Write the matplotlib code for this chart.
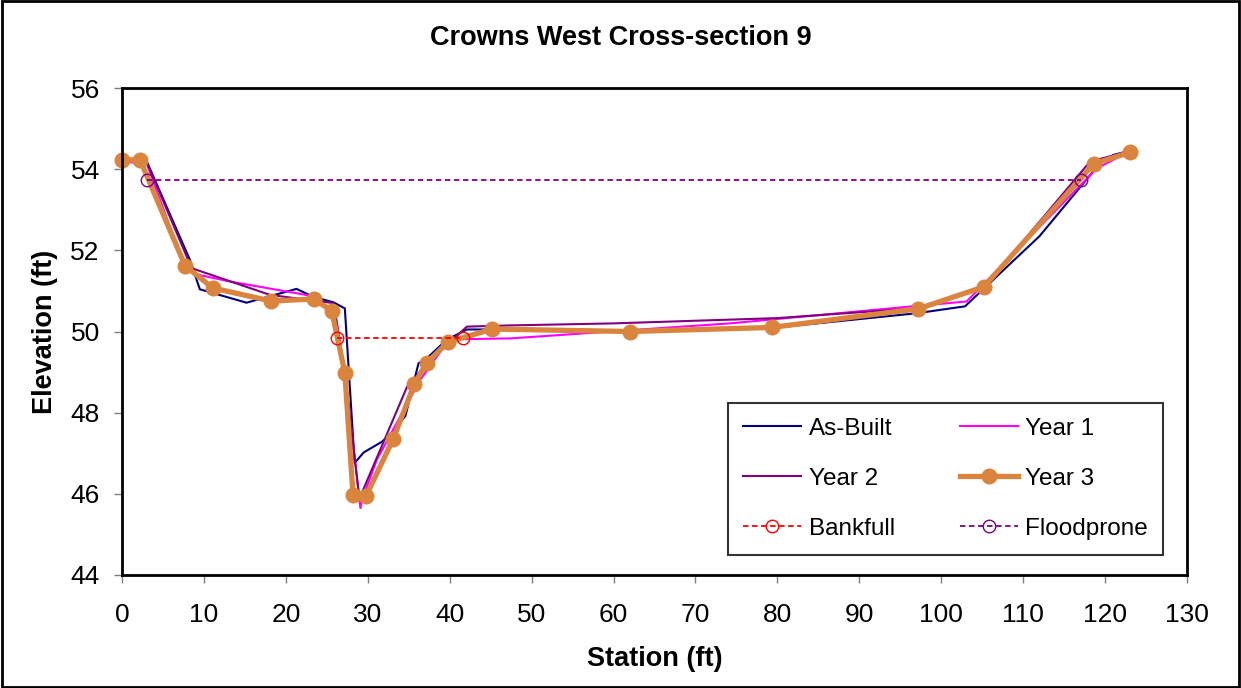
import matplotlib
matplotlib.use("Agg")
import matplotlib.pyplot as plt
from matplotlib.patches import Rectangle

plt.rcParams['font.family'] = ['Liberation Sans', 'DejaVu Sans']

title = "Crowns West Cross-section 9"
x_label = "Station (ft)"
y_label = "Elevation (ft)"

asbuilt_x = [0, 3.0, 8.3, 9.5, 15.2, 21.3, 23.4, 25.8, 27.2, 28.4, 29.5, 31.7, 32.7, 34.6, 35.0, 36.2, 37.0, 39.6, 42.1, 45.0, 62.0, 80.0, 97.0, 102.9, 112.0, 119.4, 121.0, 123.1]
asbuilt_y = [54.25, 54.2, 51.76, 51.04, 50.71, 51.05, 50.85, 50.72, 50.57, 46.76, 47.02, 47.28, 47.45, 47.92, 48.25, 49.22, 49.3, 49.79, 50.05, 50.05, 50.0, 50.1, 50.45, 50.62, 52.35, 54.15, 54.35, 54.46]

year1_x = [0, 3.0, 7.7, 9.5, 13.2, 22.5, 23.3, 26.0, 27.2, 29.1, 29.3, 31.1, 36.4, 39.6, 41.3, 47.4, 74.2, 97.0, 103.1, 119.0, 123.1]
year1_y = [54.18, 54.15, 51.56, 51.39, 51.23, 50.9, 50.83, 50.5, 49.0, 45.65, 45.85, 46.84, 48.81, 49.71, 49.81, 49.83, 50.2, 50.63, 50.74, 54.02, 54.45]

year2_x = [0, 3.0, 8.5, 18.1, 25.8, 27.2, 28.9, 29.1, 34.8, 37.6, 42.1, 47.4, 60.0, 80.0, 97.5, 105.5, 117.8, 119.0, 123.1]
year2_y = [54.22, 54.18, 51.56, 50.9, 50.7, 49.0, 46.02, 45.94, 48.64, 49.3, 50.12, 50.15, 50.2, 50.33, 50.58, 51.15, 54.1, 54.23, 54.45]

year3_x = [0, 2.2, 7.7, 11.1, 18.2, 23.4, 25.6, 27.2, 28.2, 29.8, 33.1, 35.7, 37.2, 39.8, 45.2, 62.0, 79.3, 97.2, 105.2, 118.6, 123.1]
year3_y = [54.23, 54.23, 51.62, 51.07, 50.75, 50.8, 50.51, 48.98, 45.98, 45.95, 47.35, 48.71, 49.23, 49.74, 50.06, 50.0, 50.1, 50.56, 51.1, 54.13, 54.42]

bankfull_x = [26.3, 41.6]
bankfull_y = [49.83, 49.83]

floodprone_x = [3.1, 117.0]
floodprone_y = [53.73, 53.73]

x_ticks = list(range(0, 131, 10))
y_ticks = [44, 46, 48, 50, 52, 54, 56]

fig = plt.figure(figsize=(12.41, 6.88), dpi=100)
ax = fig.add_axes([122/1241, 1-575/688, (1187-122)/1241, (575-88)/688])

h_ab, = ax.plot(asbuilt_x, asbuilt_y, color='#000080', lw=1.5, label='As-Built', clip_on=False)
h_y1, = ax.plot(year1_x, year1_y, color='#FF00FF', lw=1.5, label='Year 1', clip_on=False)
h_y2, = ax.plot(year2_x, year2_y, color='#800080', lw=1.5, label='Year 2', clip_on=False)
h_y3, = ax.plot(year3_x, year3_y, color='#DB843D', lw=3.8, marker='o', markersize=10.5,
                label='Year 3', clip_on=False)
h_bf, = ax.plot(bankfull_x, bankfull_y, color='#FF0000', lw=1.3, ls=(0, (3, 2)), marker='o',
                markersize=9, markerfacecolor='none', markeredgecolor='#FF0000', label='Bankfull',
                clip_on=False)
h_fp, = ax.plot(floodprone_x, floodprone_y, color='#800080', lw=1.3, ls=(0, (3, 2)), marker='o',
                markersize=9, markerfacecolor='none', markeredgecolor='#800080', label='Floodprone',
                clip_on=False)

ax.set_xlim(0, 130)
ax.set_ylim(44, 56)
ax.set_xticks(x_ticks)
ax.set_yticks(y_ticks)
ax.tick_params(axis='both', direction='out', length=6, width=1, color='#808080',
               labelsize=19)
ax.tick_params(axis='x', pad=14)
ax.tick_params(axis='y', pad=10)
for s in ax.spines.values():
    s.set_linewidth(2)
    s.set_color('black')

ax.set_xlabel(x_label, fontsize=19.5, fontweight='bold', labelpad=14)
ax.set_ylabel(y_label, fontsize=19.5, fontweight='bold', labelpad=9)
fig.text(0.5, 1-38/688, title, ha='center', va='center', fontsize=19.5, fontweight='bold')

leg = ax.legend(handles=[h_ab, h_y2, h_bf, h_y1, h_y3, h_fp], ncol=2, loc='lower left',
                bbox_to_anchor=((728-122)/1065, (575-555)/487, (1163-728)/1065, (555-402)/487),
                mode='expand', fontsize=17.5, frameon=True, fancybox=False, borderaxespad=0,
                handlelength=2.4, handletextpad=0.3, labelspacing=1.15, columnspacing=1.0,
                borderpad=0.62)
leg.get_frame().set_edgecolor('black')
leg.get_frame().set_linewidth(1.5)

fig.patches.append(Rectangle((0.002, 0.002), 0.996, 0.996, transform=fig.transFigure,
                             fill=False, edgecolor='black', linewidth=2))

fig.savefig('out.png', dpi=100)
